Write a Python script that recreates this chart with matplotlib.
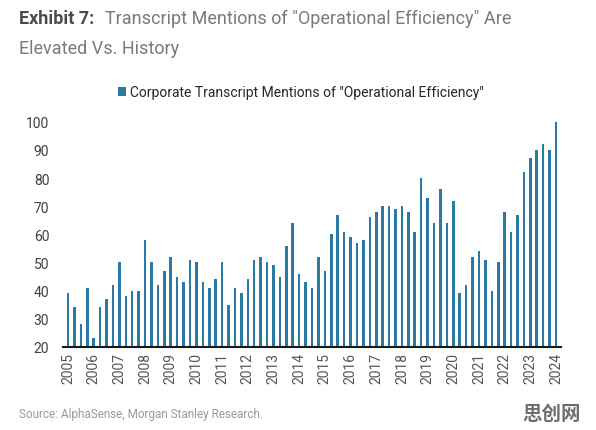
"""Exhibit 7: corporate transcript mentions of "Operational Efficiency"."""

import matplotlib
matplotlib.use("Agg")
import matplotlib.pyplot as plt
import numpy as np

# quarterly values, 2005Q1 .. 2024Q1
mentions = [
    39, 34, 28, 41, 23, 34, 37, 42, 50, 38, 40, 40, 58, 50, 42, 47,
    52, 45, 43, 51, 50, 43, 41, 44, 50, 35, 41, 39, 44, 51, 52, 50,
    49, 45, 56, 64, 46, 43, 41, 52, 47, 60, 67, 61, 59, 57, 58, 66,
    68, 70, 70, 69, 70, 68, 61, 80, 73, 64, 76, 64, 72, 39, 42, 52,
    54, 51, 40, 50, 68, 61, 67, 82, 87, 90, 92, 90, 100,
]
years = list(range(2005, 2025))
year_pos = [4 * (y - 2005) for y in years]

BAR = "#2b7aa6"

plt.rcParams["font.family"] = ["Roboto", "DejaVu Sans"]

fig = plt.figure(figsize=(5.96, 4.31), dpi=100)
ax = fig.add_axes([0.106, 0.193, 0.835, 0.522])

x = np.arange(len(mentions))
ax.bar(x, mentions, width=0.4, color=BAR, label='Corporate Transcript Mentions of "Operational Efficiency"')

ax.set_ylim(20, 100)
ax.set_xlim(-0.75, len(mentions) - 0.25)
ax.set_yticks(range(20, 101, 10))
ax.set_xticks(year_pos)
ax.set_xticklabels([str(y) for y in years], rotation=90)
ax.tick_params(axis="both", length=0, labelsize=10, labelcolor="#404040")
ax.tick_params(axis="y", pad=10)
ax.tick_params(axis="x", pad=4, labelsize=10, labelcolor="#555555")
for side in ("top", "right", "left"):
    ax.spines[side].set_visible(False)
ax.spines["bottom"].set_color("#1a1a1a")
ax.spines["bottom"].set_linewidth(1.5)

leg = fig.legend(loc="center", bbox_to_anchor=(0.505, 0.784), frameon=False,
                 fontsize=10, handlelength=0.6, handleheight=0.6, handletextpad=0.3)
for t in leg.get_texts():
    t.set_color("#262626")

fig.text(0.032, 0.955, "Exhibit 7:", fontsize=13, fontweight="bold", color="#4a4a4a", va="center")
fig.text(0.176, 0.955, 'Transcript Mentions of "Operational Efficiency" Are',
         fontsize=13, color="#7a7a7a", va="center")
fig.text(0.032, 0.887, "Elevated Vs. History", fontsize=13,
         color="#7a7a7a", va="center")

fig.text(0.032, 0.038, "Source: AlphaSense, Morgan Stanley Research.", fontsize=8.5,
         color="#9a9a9a", va="center")
fig.text(0.975, 0.038, "思创网", fontsize=14, fontweight="bold", color="#6e6e6e",
         ha="right", va="center", family=["Noto Sans CJK SC", "DejaVu Sans"])

fig.savefig("out.png", dpi=100, facecolor="white")
